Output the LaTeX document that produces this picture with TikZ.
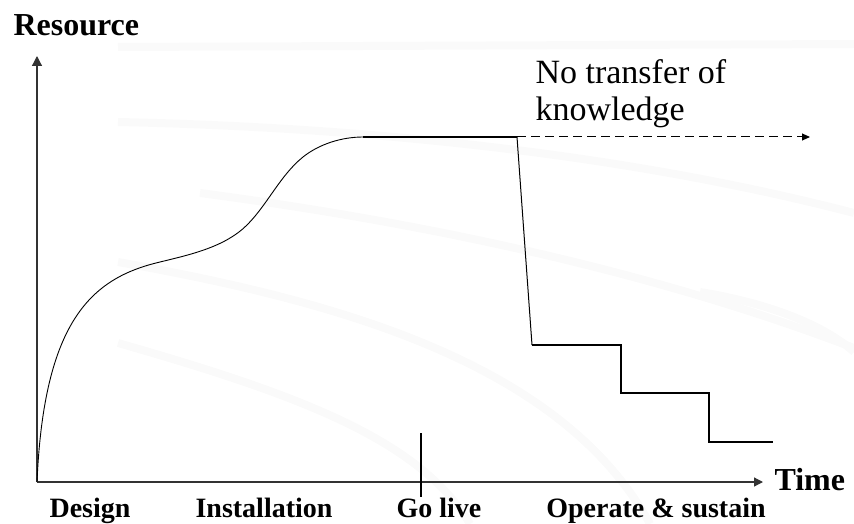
\documentclass[tikz,border=0pt]{standalone}
\usepackage{amsmath}
\usepackage{amssymb}
\usepackage{fontspec}
\setmainfont{Liberation Serif}
\usetikzlibrary{arrows.meta}
\tikzset{
  axis/.style={line width=1.2pt, black!80, -{Triangle[length=10pt,width=10pt]}},
  swoosh/.style={line width=8pt, black!2},
  phase/.style={font=\fontsize{28}{32}\selectfont\bfseries, anchor=base},
  axislabel/.style={font=\fontsize{32}{36}\selectfont\bfseries, anchor=base west},
  note/.style={font=\fontsize{34}{40}\selectfont, anchor=base west}
}

\begin{document}
\begin{tikzpicture}[x=1pt,y=-1pt]
        \useasboundingbox (0,0) rectangle (854,524);
        % faint background swooshes
        \draw[swoosh] (118,47) -- (854,44);
        \draw[swoosh] (118,122) .. controls (400,128) and (650,160) .. (854,213);
        \draw[swoosh] (200,193) .. controls (420,222) and (650,270) .. (854,348);
        \draw[swoosh] (118,262) .. controls (330,300) and (560,360) .. (650,524);
        \draw[swoosh] (118,343) .. controls (300,395) and (420,440) .. (470,524);
        \draw[swoosh] (700,292) .. controls (780,305) and (830,330) .. (854,352);
        \coordinate (O) at (37,482);
        \coordinate (ytop) at (37,56);
        \coordinate (xend) at (763,482);
        \draw[axis] (O) -- (ytop);
        \draw[axis, -{Triangle[length=9pt,width=9pt]}] (O) -- (xend);
        \node[axislabel] (res) at (10,36) {Resource};
        \node[axislabel] (time) at (771,490) {Time};
        % growth curve
        \coordinate (p1) at (160,262);
        \coordinate (p2) at (247,225);
        \coordinate (p3) at (303,157);
        \coordinate (top) at (363,137);
        \draw[line width=0.9pt] (O) .. controls (44,320) and (92,278) .. (p1)
              .. controls (190,254.7) and (225,247) .. (p2)
              .. controls (267.5,204.5) and (280.4,175.1) .. (p3)
              .. controls (319.4,143.9) and (342,137) .. (top);
        \coordinate (stop) at (517,137);
        \draw[line width=1.6pt] (top) -- (stop);
        \draw[dashed, line width=1pt, dash pattern=on 9pt off 5pt, -{Triangle[length=8pt,width=7pt]}] (stop) -- (810,137) coordinate (dend);
        \node[note] (note1) at (532,84) {No transfer of};
        \node[note] (note2) at (532,121) {knowledge};
        % drop and steps
        \coordinate (s1) at (532,345);
        \draw[line width=1pt] (stop) -- (s1);
        \draw[line width=1.5pt] (s1) -- (621,345) -- (621,393) -- (709,393) -- (709,442) -- (773,442) coordinate (s2);
        % go live marker
        \coordinate (gtop) at (421,433);
        \coordinate (gbot) at (421,497);
        \draw[line width=1.2pt] (gtop) -- (gbot);
        \node[phase] (design) at (90,517) {Design};
        \node[phase] (inst) at (264,517) {Installation};
        \node[phase] (golive) at (439,517) {Go live};
        \node[phase] (oper) at (656,517) {Operate \& sustain};
    \end{tikzpicture}
\end{document}
